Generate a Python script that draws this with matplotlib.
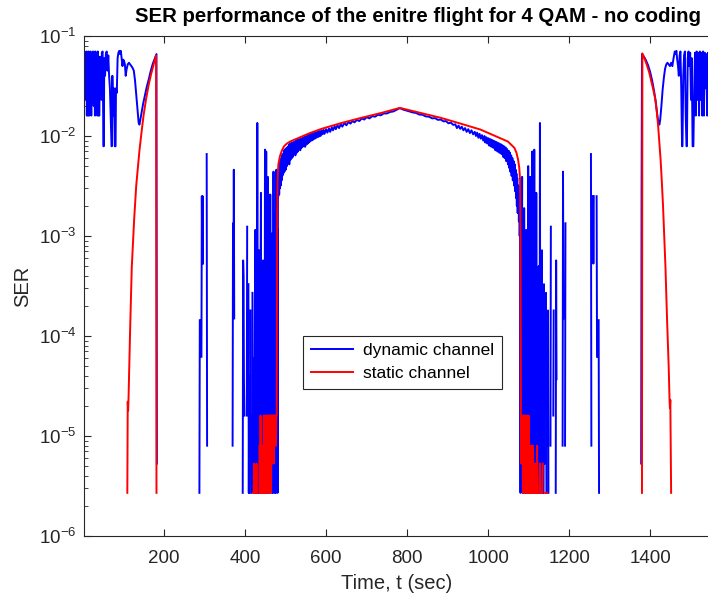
import numpy as np
import matplotlib
matplotlib.use('Agg')
import matplotlib.pyplot as plt

plt.rcParams['font.family'] = ['Liberation Sans', 'DejaVu Sans']
plt.rcParams['mathtext.fontset'] = 'custom'
plt.rcParams['mathtext.rm'] = 'Liberation Sans'
plt.rcParams['mathtext.it'] = 'Liberation Sans:italic'

# (time in sec, SER); SER = 0 means no errors -> gap on the log axis
# ---------------- dynamic channel ----------------
dyn_start = [
    (1, 0.068), (2, 0.023), (3, 0.068), (4, 0.030), (5, 0.068), (7, 0.023),
    (8, 0.070), (9, 0.016), (11, 0.068), (12, 0.016), (13, 0.070), (15, 0.016),
    (16, 0.068), (17, 0.030), (18, 0.070), (20, 0.016), (21, 0.068), (23, 0.023),
    (24, 0.070), (26, 0.020), (27, 0.068), (29, 0.016), (30, 0.070), (32, 0.023),
    (33, 0.066), (35, 0.016), (36, 0.070), (38, 0.016), (40, 0.016), (41, 0.062),
    (43, 0.050), (45, 0.023), (46, 0.068), (48, 0.070), (50, 0.0079), (51, 0.0079),
    (52, 0.060), (54, 0.040), (56, 0.066), (58, 0.070), (60, 0.045), (62, 0.064),
    (64, 0.040), (66, 0.030), (68, 0.016), (70, 0.0079), (71, 0.0079), (72, 0.040),
    (74, 0.016), (76, 0.030), (78, 0.0079), (80, 0.0079), (81, 0.030), (83, 0.027),
    (85, 0.060), (87, 0.068), (89, 0.071), (91, 0.066), (93, 0.071), (95, 0.060),
    (97, 0.050), (99, 0.058), (101, 0.056), (103, 0.052), (105, 0.040), (107, 0.046),
    (110, 0.052), (113, 0.054), (116, 0.052), (119, 0.050), (122, 0.048), (125, 0.045),
    (128, 0.036), (131, 0.026), (134, 0.019), (137, 0.0135), (139, 0.013), (141, 0.0145),
    (144, 0.017), (148, 0.021), (152, 0.025), (157, 0.031), (162, 0.037), (167, 0.045),
    (172, 0.053), (177, 0.060), (181, 0.066), (182, 5.3e-6), (183, 0),
]
dyn_gap_left = [
    (286, 0), (287, 2.7e-6), (288, 1.44e-4), (289, 0),
    (291, 0), (292, 6.2e-5), (293, 2.5e-3), (294, 5.3e-4), (295, 2.5e-3), (296, 5.3e-4), (297, 0),
    (304, 0), (305, 6.6e-3), (306, 8e-6), (307, 0),
    (368, 0), (369, 8e-6), (370, 1.34e-3), (371, 1.5e-4), (372, 4.6e-3), (373, 1.5e-4), (374, 0),
    (393, 0), (394, 2.7e-6), (395, 5.7e-4), (396, 4e-4), (397, 3.7e-5), (398, 1.6e-5), (399, 0),
    (403, 0), (404, 1.6e-5), (405, 1.24e-3), (406, 0),
    (407, 0), (408, 3.3e-4), (409, 2.7e-6), (410, 4e-5), (411, 2.7e-6), (412, 0),
    (413, 1.8e-4), (414, 8e-6), (415, 1.6e-5), (416, 2.7e-6), (417, 0), (418, 2.7e-4),
    (419, 5.3e-6), (420, 6e-5), (421, 2.7e-6), (422, 1.6e-5), (423, 2.7e-6), (424, 2e-4),
    (425, 1.15e-3), (426, 2.7e-6), (427, 5e-5), (428, 5.3e-6), (429, 2.7e-6), (430, 0.0135),
    (431, 2.7e-6), (432, 1.6e-5), (433, 2.7e-6), (434, 7.2e-4), (435, 8e-6), (436, 1.2e-4),
    (437, 2.7e-6), (438, 5e-4), (439, 2.7e-3), (440, 5.3e-6), (441, 2e-4), (442, 2.7e-6),
    (443, 1.6e-5), (444, 5.7e-4), (445, 2.7e-6), (446, 3e-4), (447, 2.7e-6), (448, 1.6e-5),
    (449, 7.3e-3), (450, 2.7e-6), (451, 3e-4), (452, 7.0e-3), (453, 5.3e-6), (454, 1.5e-4),
    (455, 2.7e-6), (456, 3.9e-3), (457, 2.7e-6), (458, 3.3e-4), (459, 2.7e-6), (460, 1.6e-5),
    (461, 5.3e-6), (462, 2.6e-3), (463, 2.7e-6), (464, 2e-4), (465, 8e-6), (466, 1.06e-3),
    (467, 2.7e-6), (468, 6e-5), (469, 2.7e-6), (470, 4.4e-3), (471, 5.3e-6), (472, 3e-4),
    (473, 2.7e-6), (474, 1.7e-3), (475, 2.7e-6), (476, 2.7e-6), (477, 4.6e-3), (478, 1.6e-5),
    (479, 1.2e-3), (480, 2.7e-6), (481, 2.5e-3),
]
dyn_mid = [
    (482, 2.5e-3), (483, 4.8e-3), (484, 2.6e-3), (485, 5.2e-3), (486, 3.0e-3), (487, 5.6e-3),
    (488, 3.2e-3), (489, 6.0e-3), (490, 3.6e-3), (491, 6.4e-3), (492, 4.0e-3), (493, 6.6e-3),
    (494, 4.2e-3), (496, 7.2e-3), (497, 4.4e-3), (499, 7.4e-3), (500, 4.6e-3), (502, 7.6e-3),
    (503, 5.0e-3), (505, 7.8e-3), (506, 5.4e-3), (508, 8.2e-3), (509, 5.2e-3), (511, 8.4e-3),
    (512, 5.8e-3), (514, 8.5e-3), (515, 6.0e-3), (517, 8.6e-3), (518, 6.2e-3), (520, 8.7e-3),
    (521, 6.6e-3), (523, 8.8e-3), (524, 6.4e-3), (526, 9.0e-3), (527, 6.8e-3), (529, 9.2e-3),
    (530, 7.0e-3), (532, 9.2e-3), (533, 7.4e-3), (535, 9.3e-3), (536, 7.2e-3), (538, 9.4e-3),
    (539, 7.6e-3), (541, 9.5e-3), (542, 7.8e-3), (544, 9.6e-3), (545, 8.0e-3), (547, 9.8e-3),
    (548, 7.8e-3), (550, 9.9e-3), (551, 8.2e-3), (553, 1.0e-2), (554, 8.4e-3), (556, 1.02e-2),
    (557, 8.6e-3), (559, 1.04e-2), (560, 8.8e-3), (563, 1.05e-2), (564, 9.0e-3), (567, 1.07e-2),
    (568, 9.2e-3), (571, 1.08e-2), (572, 9.4e-3), (575, 1.09e-2), (576, 9.6e-3), (579, 1.1e-2),
    (581, 9.8e-3), (584, 1.12e-2), (586, 1.0e-2), (589, 1.14e-2), (591, 1.04e-2), (594, 1.15e-2),
    (596, 1.05e-2), (600, 1.17e-2), (603, 1.08e-2), (607, 1.19e-2), (610, 1.1e-2), (614, 1.22e-2),
    (617, 1.14e-2), (621, 1.25e-2), (624, 1.17e-2), (628, 1.28e-2), (632, 1.2e-2), (636, 1.31e-2),
    (640, 1.24e-2), (645, 1.35e-2), (650, 1.28e-2), (655, 1.38e-2), (660, 1.33e-2), (665, 1.41e-2),
    (670, 1.37e-2), (676, 1.45e-2), (682, 1.41e-2), (688, 1.5e-2), (694, 1.46e-2), (700, 1.54e-2),
    (707, 1.5e-2), (714, 1.58e-2), (721, 1.56e-2), (728, 1.63e-2), (735, 1.61e-2), (742, 1.68e-2),
    (750, 1.68e-2), (758, 1.74e-2), (766, 1.76e-2), (774, 1.83e-2), (782, 1.9e-2), (790, 1.84e-2),
    (798, 1.8e-2), (806, 1.76e-2), (814, 1.72e-2), (822, 1.7e-2), (830, 1.64e-2), (838, 1.63e-2),
    (846, 1.57e-2), (854, 1.56e-2), (862, 1.5e-2), (869, 1.51e-2), (876, 1.45e-2), (883, 1.46e-2),
    (890, 1.4e-2), (896, 1.41e-2), (902, 1.34e-2), (908, 1.36e-2), (914, 1.29e-2), (919, 1.31e-2),
    (923, 1.2e-2), (927, 1.27e-2), (931, 1.18e-2), (935, 1.24e-2), (939, 1.14e-2), (943, 1.2e-2),
    (947, 1.1e-2), (951, 1.17e-2), (955, 1.07e-2), (959, 1.14e-2), (963, 1.04e-2), (967, 1.1e-2),
    (970, 1.0e-2), (973, 1.08e-2), (976, 9.6e-3), (979, 1.05e-2), (982, 9.4e-3), (985, 1.02e-2),
    (988, 9.0e-3), (991, 1.0e-2), (993, 8.6e-3), (996, 9.7e-3), (998, 8.4e-3), (1001, 9.5e-3),
    (1003, 8.0e-3), (1006, 9.3e-3), (1008, 7.8e-3), (1011, 9.1e-3), (1013, 7.6e-3), (1016, 8.9e-3),
    (1018, 7.2e-3), (1021, 8.7e-3), (1023, 7.0e-3), (1026, 8.5e-3), (1028, 6.8e-3), (1031, 8.3e-3),
    (1033, 6.6e-3), (1035, 8.1e-3), (1037, 6.2e-3), (1039, 7.9e-3), (1041, 6.0e-3), (1043, 7.7e-3),
    (1045, 5.6e-3), (1047, 7.4e-3), (1049, 5.2e-3), (1051, 7.1e-3), (1052, 4.8e-3), (1054, 6.8e-3),
    (1055, 4.4e-3), (1057, 6.4e-3), (1058, 4.0e-3), (1060, 6.0e-3), (1061, 3.6e-3), (1063, 5.6e-3),
    (1064, 3.2e-3), (1066, 5.2e-3), (1067, 2.8e-3), (1068, 4.6e-3), (1069, 2.4e-3), (1070, 4.2e-3),
    (1071, 2.0e-3), (1072, 3.8e-3), (1073, 1.7e-3), (1075, 3.2e-3), (1076, 1.4e-3), (1077, 2.6e-3),
    (1078, 1.0e-3),
]
dyn_gap_right = [
    (1079, 2.2e-3), (1080, 2.7e-6), (1081, 1.5e-3), (1082, 5.3e-6), (1083, 3e-4), (1084, 3.9e-3),
    (1085, 2.7e-6), (1086, 1.6e-5), (1087, 8e-4), (1088, 2.7e-6), (1089, 1.9e-3), (1090, 8e-6),
    (1091, 2e-4), (1092, 2.7e-6), (1093, 1.6e-5), (1094, 1.15e-3), (1095, 2.7e-6), (1096, 3e-4),
    (1097, 5.3e-6), (1098, 1.6e-5), (1099, 5.0e-3), (1100, 2.7e-6), (1101, 6e-4), (1102, 2.7e-6),
    (1103, 1.6e-5), (1104, 3.9e-3), (1105, 5.3e-6), (1106, 2e-4), (1107, 2.7e-6), (1108, 1.6e-5),
    (1109, 7.0e-3), (1110, 2.7e-6), (1111, 4e-4), (1112, 2.7e-6), (1113, 8e-6), (1114, 7.3e-3),
    (1115, 2.7e-6), (1116, 1.5e-4), (1117, 5.3e-6), (1118, 2.7e-6), (1119, 2.7e-3), (1120, 2.7e-6),
    (1121, 6e-5), (1122, 2.7e-6), (1123, 0), (1124, 1.6e-5), (1125, 5e-4), (1126, 2.7e-6),
    (1127, 5.3e-6), (1128, 0.0135), (1129, 2.7e-6), (1130, 0), (1131, 5.3e-6), (1132, 1.6e-5),
    (1133, 7.2e-4), (1134, 2.7e-6), (1135, 0), (1137, 2.7e-6), (1138, 3.3e-4), (1139, 5.3e-6),
    (1140, 0), (1142, 1.6e-5), (1143, 2.7e-4), (1144, 2.7e-6), (1145, 0), (1147, 8e-6),
    (1148, 1.8e-4), (1149, 2.7e-6), (1150, 0),
    (1153, 0), (1154, 8e-6), (1155, 1.24e-3), (1156, 0),
    (1160, 0), (1161, 1.6e-5), (1162, 1.8e-4), (1163, 0),
    (1166, 0), (1167, 2.7e-6), (1168, 5.7e-4), (1169, 3.7e-5), (1170, 0),
    (1183, 0), (1184, 8e-6), (1185, 4.4e-3), (1186, 1.5e-4), (1187, 0),
    (1189, 0), (1190, 8e-6), (1191, 1.34e-3), (1192, 0),
    (1253, 0), (1254, 6.6e-3), (1255, 8e-6), (1256, 0),
    (1258, 0), (1259, 2.5e-3), (1260, 5.3e-4), (1261, 2.5e-3), (1262, 0),
    (1267, 0), (1268, 2.5e-3), (1269, 6.2e-5), (1270, 0),
    (1272, 0), (1273, 1.44e-4), (1274, 2.7e-6), (1275, 0),
]
dyn_end = [
    (1377, 0), (1378, 5.3e-6), (1379, 2.5e-3), (1380, 0.066), (1385, 0.062), (1390, 0.057),
    (1395, 0.051), (1400, 0.044), (1405, 0.036), (1410, 0.028), (1414, 0.022), (1418, 0.016),
    (1421, 0.0135), (1423, 0.013), (1425, 0.0145), (1428, 0.020), (1431, 0.029), (1434, 0.038),
    (1437, 0.047), (1440, 0.052), (1443, 0.054), (1446, 0.052), (1449, 0.050), (1452, 0.054),
    (1455, 0.050), (1458, 0.060), (1461, 0.070), (1463, 0.066), (1465, 0.071), (1467, 0.058),
    (1469, 0.050), (1471, 0.040), (1473, 0.064), (1475, 0.070), (1477, 0.030), (1479, 0.0079),
    (1480, 0.0079), (1482, 0.040), (1484, 0.064), (1486, 0.070), (1488, 0.016), (1490, 0.0079),
    (1491, 0.0079), (1493, 0.060), (1495, 0.070), (1497, 0.050), (1499, 0.068), (1501, 0.023),
    (1503, 0.060), (1505, 0.0079), (1507, 0.0079), (1509, 0.030), (1511, 0.068), (1513, 0.016),
    (1515, 0.070), (1517, 0.023), (1519, 0.068), (1521, 0.016), (1523, 0.070), (1525, 0.023),
    (1527, 0.068), (1529, 0.016), (1531, 0.070), (1533, 0.016), (1535, 0.068), (1537, 0.030),
    (1539, 0.066), (1541, 0.016), (1543, 0.068), (1545, 0.023), (1547, 0.066),
]

# ---------------- static channel ----------------
sta_start = [
    (108, 0), (109, 2.7e-6), (110, 2.2e-5), (111, 1.8e-5), (112, 2.4e-5), (116, 1.2e-4),
    (120, 4.9e-4), (126, 1.5e-3), (131, 3.2e-3), (135, 4.8e-3), (139, 7.2e-3), (143, 0.010),
    (149, 0.016), (155, 0.023), (162, 0.033), (168, 0.042), (174, 0.052), (180, 0.064),
    (181, 2.7e-6), (182, 0),
]
sta_floor_left = [
    (419, 0), (420, 2.7e-6), (421, 2.7e-6), (422, 5.3e-6), (423, 2.7e-6), (424, 0),
    (426, 0), (427, 2.7e-6), (428, 5.3e-6), (429, 2.7e-6), (430, 0),
    (434, 0), (435, 2.7e-6), (436, 8e-6), (437, 2.7e-6), (438, 1.6e-5), (439, 5.3e-6),
    (440, 2.7e-6), (441, 8e-6), (442, 2.7e-6), (443, 0),
    (445, 2.7e-6), (446, 1.6e-5), (447, 5.3e-6), (448, 2.7e-6), (449, 8e-6), (450, 2.7e-6),
    (451, 1.6e-5), (452, 2.7e-6), (453, 5.3e-6), (454, 1.6e-5), (455, 2.7e-6), (456, 8e-6),
    (457, 1.6e-5), (458, 2.7e-6), (459, 1.6e-5), (460, 5.3e-6), (461, 1.6e-5), (462, 8e-6),
    (463, 1.6e-5), (464, 2.7e-6), (465, 1.6e-5), (466, 5.3e-6), (467, 1.6e-5), (468, 8e-6),
    (469, 1.6e-5), (470, 1.6e-5), (471, 5.3e-6), (472, 1.6e-5), (473, 8e-6), (474, 1.6e-5),
    (475, 1.6e-5), (476, 8e-6), (477, 1.6e-5), (478, 1.6e-5),
]
sta_mid = [
    (479, 1.1e-3), (480, 3.5e-3), (482, 5.2e-3), (486, 6.3e-3), (491, 7.2e-3), (496, 7.9e-3),
    (503, 8.4e-3), (511, 8.8e-3), (530, 9.5e-3), (560, 0.0107), (589, 0.0118), (638, 0.0135),
    (687, 0.0152), (736, 0.0170), (782, 0.0191), (834, 0.0170), (883, 0.0152), (932, 0.0133),
    (981, 0.0116), (1020, 0.0099), (1049, 0.0088), (1065, 0.0076), (1070, 0.0068),
    (1074, 0.0058), (1077, 0.0048), (1079, 0.0036), (1080, 1.0e-3),
]
sta_floor_right = [
    (1081, 1.6e-5), (1082, 5.3e-6), (1083, 1.6e-5), (1084, 8e-6), (1085, 1.6e-5), (1086, 2.7e-6),
    (1087, 1.6e-5), (1088, 5.3e-6), (1089, 1.6e-5), (1090, 2.7e-6), (1091, 1.6e-5), (1092, 8e-6),
    (1093, 2.7e-6), (1094, 1.6e-5), (1095, 5.3e-6), (1096, 1.6e-5), (1097, 2.7e-6), (1098, 8e-6),
    (1099, 2.7e-6), (1100, 1.6e-5), (1101, 2.7e-6), (1102, 5.3e-6), (1103, 8e-6), (1104, 2.7e-6),
    (1105, 5.3e-6), (1106, 2.7e-6), (1107, 8e-6), (1108, 2.7e-6), (1109, 5.3e-6), (1110, 2.7e-6),
    (1111, 8e-6), (1112, 2.7e-6), (1113, 0),
    (1115, 2.7e-6), (1116, 5.3e-6), (1117, 2.7e-6), (1118, 0),
    (1120, 2.7e-6), (1121, 8e-6), (1122, 2.7e-6), (1123, 0),
    (1127, 2.7e-6), (1128, 5.3e-6), (1129, 2.7e-6), (1130, 0),
    (1134, 2.7e-6), (1135, 5.3e-6), (1136, 0),
    (1140, 0), (1141, 2.7e-6), (1142, 2.7e-6), (1143, 0),
    (1145, 2.7e-6), (1146, 2.7e-6), (1147, 0),
]
sta_end = [
    (1379, 0), (1380, 2.7e-6), (1381, 0.067), (1386, 0.060), (1393, 0.050), (1398, 0.043),
    (1403, 0.0353), (1408, 0.029), (1413, 0.0232), (1417, 0.017), (1420, 0.0125), (1423, 0.0085),
    (1426, 0.0058), (1429, 0.0035), (1432, 0.0020), (1435, 1.0e-3), (1438, 4.9e-4),
    (1442, 1.44e-4), (1446, 4.9e-5), (1448, 2.35e-5), (1449, 1.9e-5), (1450, 2.3e-5),
    (1452, 2.7e-6), (1453, 0),
]


def join(*segments):
    pts = [p for seg in segments for p in seg]
    t = np.array([p[0] for p in pts], dtype=float)
    v = np.array([p[1] for p in pts], dtype=float)
    return t, v


t_dyn, ser_dyn = join(dyn_start, dyn_gap_left, dyn_mid, dyn_gap_right, dyn_end)
t_sta, ser_sta = join(sta_start, sta_floor_left, sta_mid, sta_floor_right, sta_end)

dark = '#262626'
fig = plt.figure(figsize=(7.08, 5.99), dpi=100)
ax = fig.add_axes([84 / 708, 63 / 599, 626 / 708, 500 / 599])
ax.set_yscale('log', nonpositive='mask')

ax.plot(t_dyn, ser_dyn, color='b', lw=1.4, label='dynamic channel')
ax.plot(t_sta, ser_sta, color='r', lw=1.4, label='static channel')

ax.set_xlim(2, 1548)
ax.set_ylim(1e-6, 1e-1)
ax.set_xticks(np.arange(200, 1401, 200))

ax.tick_params(which='both', direction='in', top=True, right=False,
               colors=dark, labelsize=13.5)
ax.tick_params(axis='x', pad=10)
ax.tick_params(axis='y', pad=5.5)
ax.tick_params(which='major', length=5, width=0.8)
ax.tick_params(which='minor', length=3, width=0.6)
for sp in ax.spines.values():
    sp.set_color(dark)
    sp.set_linewidth(0.8)

ax.set_xlabel('Time, t (sec)', fontsize=14.5, color=dark, labelpad=5)
ax.set_ylabel('SER', fontsize=14.5, color=dark, labelpad=5)
fig.text(418 / 708, 1 - 17 / 599,
         'SER performance of the enitre flight for 4 QAM - no coding',
         ha='center', va='center', fontsize=14.7, fontweight='bold')

leg = ax.legend(loc='upper left', bbox_to_anchor=(0.350, 0.401), borderaxespad=0,
                fontsize=12.5, fancybox=False, framealpha=1, edgecolor=dark,
                handlelength=2.4, handletextpad=0.6, borderpad=0.45, labelspacing=0.45)
leg.get_frame().set_linewidth(0.8)

fig.savefig('out.png', dpi=100)
